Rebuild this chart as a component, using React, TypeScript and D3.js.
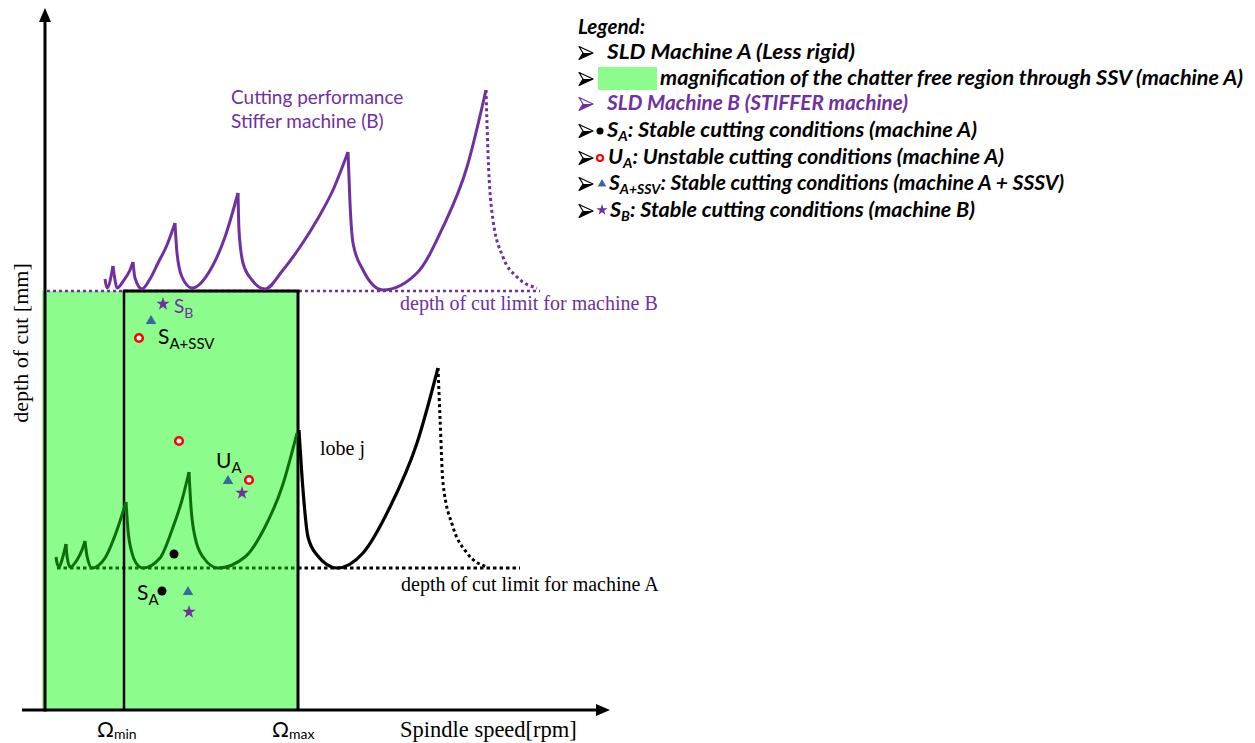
import * as d3 from 'd3'

type Pt = [number, number]

// spindle speed (rpm-like units) vs depth of cut (mm)
const greenLobes: Pt[][] = [
  [[110, 1.53], [120, 1.47], [140, 1.43], [175, 1.52], [210, 1.66]],
  [[210, 1.66], [220, 1.54], [250, 1.43], [320, 1.5], [370, 1.6], [400, 1.69]],
  [[400, 1.69], [420, 1.54], [470, 1.42], [600, 1.52], [720, 1.8], [810, 2.08]],
  [[810, 2.08], [830, 1.8], [870, 1.57], [910, 1.47], [980, 1.42], [1150, 1.52], [1270, 1.8], [1370, 2.1], [1440, 2.38]],
  [[1440, 2.38], [1460, 2.03], [1500, 1.73], [1580, 1.53], [1730, 1.42], [2000, 1.53], [2200, 1.83], [2370, 2.23], [2520, 2.77]],
]
const blackLobe: Pt[] = [
  [2540, 2.8], [2580, 2.2], [2630, 1.73], [2720, 1.55], [2920, 1.42], [3180, 1.57], [3450, 2.03], [3720, 2.67], [3930, 3.42],
]
const blackTail: Pt[] = [[3930, 3.42], [3950, 2.93], [3980, 2.27], [4080, 1.83], [4220, 1.57], [4420, 1.43]]

const purpleLobes: Pt[][] = [
  [[600, 4.31], [620, 4.22], [680, 4.44]],
  [[680, 4.44], [700, 4.3], [720, 4.22], [790, 4.3], [850, 4.4], [880, 4.48]],
  [[880, 4.48], [900, 4.32], [970, 4.21], [1050, 4.31], [1130, 4.47], [1220, 4.65], [1300, 4.87]],
  [[1300, 4.87], [1320, 4.57], [1370, 4.33], [1470, 4.22], [1670, 4.43], [1800, 4.73], [1930, 5.17]],
  [[1930, 5.17], [1940, 4.8], [1980, 4.47], [2070, 4.3], [2200, 4.21], [2380, 4.4], [2550, 4.63], [2720, 4.9], [2880, 5.2], [3030, 5.58]],
  [[3030, 5.58], [3050, 5.07], [3080, 4.67], [3180, 4.4], [3380, 4.2], [3720, 4.37], [3980, 4.83], [4220, 5.43], [4410, 6.2]],
]
const purpleTail: Pt[] = [[4410, 6.2], [4430, 5.57], [4480, 4.9], [4580, 4.53], [4720, 4.33], [4920, 4.22]]

const limitA = 1.42
const limitB = 4.19
const omegaMin = 790
const omegaMax = 2530
const regionStart = -30

const stableA: Pt[] = [[1170, 1.19], [1290, 1.56]]
const unstableA: Pt[] = [[1340, 2.69], [2040, 2.3], [940, 3.72]]
const stableSsv: Pt[] = [[1430, 1.18], [1830, 2.29], [1060, 3.89]]
const stableB: Pt[] = [[1440, 0.98], [1970, 2.17], [1180, 4.06]]

const PURPLE = '#7030a0'
const GREEN_LINE = '#0b6e0b'
const GREEN_FILL = '#8cfc8c'
const BLUE = '#3c679e'
const SERIF = '"Liberation Serif", "Times New Roman", serif'
const SANS = 'Lato, "Open Sans", sans-serif'

function Bullet({ x, y, color }: { x: number; y: number; color: string }) {
  // 3D arrowhead like the Wingdings bullet
  return (
    <g transform={`translate(${x},${y})`}>
      <path d="M0,-6.5 L14,0 L0,6.5 L4,0 Z" fill="#fff" stroke={color} strokeWidth={1.2} strokeLinejoin="round" />
      <path d="M4,0 L14,0 L0,6.5 Z" fill={color} />
    </g>
  )
}

export default function App() {
  const x = d3.scaleLinear().domain([0, 5650]).range([45, 610])
  const y = d3.scaleLinear().domain([0, 7]).range([710, 10])
  const line = d3
    .line<Pt>()
    .x((d) => x(d[0]))
    .y((d) => y(d[1]))
    .curve(d3.curveMonotoneX)
  const star = d3.symbol(d3.symbolStar, 55)()
  const tri = d3.symbol(d3.symbolTriangle, 48)()

  const legendY = [34, 59, 85, 110, 137, 164, 190, 217]

  return (
    <svg
      width={1255}
      height={743}
      viewBox="0 0 1255 743"
      style={{ position: 'absolute', left: 0, top: 0, background: '#fff' }}
    >
      {/* chatter-free region magnified by SSV */}
      <rect
        x={x(regionStart)}
        y={y(limitB)}
        width={x(omegaMax) - x(regionStart)}
        height={y(0) - y(limitB)}
        fill={GREEN_FILL}
      />

      {/* depth-of-cut limits */}
      <line x1={x(20)} x2={x(4950)} y1={y(limitB)} y2={y(limitB)} stroke={PURPLE} strokeWidth={2.5} strokeDasharray="3 3" />
      <line x1={x(120)} x2={x(omegaMax)} y1={y(limitA)} y2={y(limitA)} stroke={GREEN_LINE} strokeWidth={3} strokeDasharray="3.5 3" />
      <line x1={x(omegaMax)} x2={x(4750)} y1={y(limitA)} y2={y(limitA)} stroke="#000" strokeWidth={3} strokeDasharray="3.5 3" />

      {/* SSV window */}
      <line x1={x(omegaMin)} x2={x(omegaMin)} y1={y(limitB)} y2={y(0)} stroke="#000" strokeWidth={2.5} />
      <line x1={x(omegaMax)} x2={x(omegaMax)} y1={y(limitB)} y2={y(0)} stroke="#000" strokeWidth={3} />
      <line x1={x(omegaMin) - 1.2} x2={x(omegaMax) + 1.5} y1={y(limitB)} y2={y(limitB)} stroke="#000" strokeWidth={3} />

      {/* stability lobes machine A */}
      {greenLobes.map((lobe, i) => (
        <path key={`g${i}`} d={line(lobe) ?? ''} fill="none" stroke={GREEN_LINE} strokeWidth={3} strokeLinejoin="round" />
      ))}
      <path d={line(blackLobe) ?? ''} fill="none" stroke="#000" strokeWidth={3.2} />
      <path d={line(blackTail) ?? ''} fill="none" stroke="#000" strokeWidth={3} strokeDasharray="3 3" />

      {/* stability lobes machine B */}
      {purpleLobes.map((lobe, i) => (
        <path key={`p${i}`} d={line(lobe) ?? ''} fill="none" stroke={PURPLE} strokeWidth={3} strokeLinejoin="round" />
      ))}
      <path d={line(purpleTail) ?? ''} fill="none" stroke={PURPLE} strokeWidth={3} strokeDasharray="3 3" />

      {/* cutting points */}
      {stableA.map((d, i) => (
        <circle key={`sa${i}`} cx={x(d[0])} cy={y(d[1])} r={4.5} fill="#000" />
      ))}
      {unstableA.map((d, i) => (
        <circle key={`ua${i}`} cx={x(d[0])} cy={y(d[1])} r={3.8} fill="#fff" stroke="#f00" strokeWidth={2.6} />
      ))}
      {stableSsv.map((d, i) => (
        <path key={`ss${i}`} d={tri ?? ''} transform={`translate(${x(d[0])},${y(d[1])})`} fill={BLUE} />
      ))}
      {stableB.map((d, i) => (
        <path key={`sb${i}`} d={star ?? ''} transform={`translate(${x(d[0])},${y(d[1])})`} fill={PURPLE} />
      ))}

      {/* axes */}
      <line x1={x(0)} x2={x(0)} y1={y(0) + 1.5} y2={20} stroke="#000" strokeWidth={3} />
      <path d={`M${x(0)},8 L${x(0) - 6},22 L${x(0) + 6},22 Z`} fill="#000" />
      <line x1={22} x2={598} y1={y(0)} y2={y(0)} stroke="#000" strokeWidth={3} />
      <path d={`M610,${y(0)} L596,${y(0) - 6} L596,${y(0) + 6} Z`} fill="#000" />

      {/* annotations */}
      <g fontFamily={SANS} fontSize={21}>
        <text x={137} y={600}>S<tspan fontSize={15} dy={5}>A</tspan></text>
        <text x={216} y={468}>U<tspan fontSize={15} dy={5}>A</tspan></text>
        <text x={158} y={344}>S<tspan fontSize={15} dy={5}>A+SSV</tspan></text>
        <text x={174} y={313} fill={PURPLE} fontSize={19}>S<tspan fontSize={14} dy={5}>B</tspan></text>
        <text x={231} y={104} fill={PURPLE} fontSize={19}>Cutting performance</text>
        <text x={231} y={128} fill={PURPLE} fontSize={19}>Stiffer machine (B)</text>
        <text x={97} y={737} fontSize={21}>Ω<tspan fontSize={14} dy={2}>min</tspan></text>
        <text x={272} y={737} fontSize={21}>Ω<tspan fontSize={14} dy={2}>max</tspan></text>
      </g>
      <g fontFamily={SERIF} fontSize={20}>
        <text x={320} y={455}>lobe j</text>
        <text x={401} y={591}>depth of cut limit for machine A</text>
        <text x={400} y={310} fill={PURPLE}>depth of cut limit for machine B</text>
        <text x={400} y={737} fontSize={22.5}>Spindle speed[rpm]</text>
        <text transform="translate(28,343) rotate(-90)" textAnchor="middle" fontSize={22}>depth of cut [mm]</text>
      </g>

      {/* legend */}
      <g fontFamily={SANS} fontSize={21} fontStyle="italic" fontWeight={700}>
        <text x={578} y={legendY[0]} textLength={67} lengthAdjust="spacingAndGlyphs">Legend:</text>
        {legendY.slice(1).map((ly, i) => (
          <Bullet key={`arr${i}`} x={579} y={ly - 6} color={i === 2 ? PURPLE : '#000'} />
        ))}
        <text x={607} y={legendY[1]} textLength={248} lengthAdjust="spacingAndGlyphs">SLD Machine A (Less rigid)</text>
        <rect x={598} y={legendY[2] - 18} width={59} height={23} fill={GREEN_FILL} />
        <text x={660} y={legendY[2]} textLength={583} lengthAdjust="spacingAndGlyphs">magnification of the chatter free region through SSV (machine A)</text>
        <text x={607} y={legendY[3]} fill={PURPLE} textLength={301} lengthAdjust="spacingAndGlyphs">SLD Machine B (STIFFER machine)</text>

        <circle cx={600} cy={legendY[4] - 6} r={3.5} fill="#000" />
        <text x={607} y={legendY[4]} textLength={370} lengthAdjust="spacingAndGlyphs">S<tspan fontSize={14} dy={4}>A</tspan><tspan dy={-4}>: Stable cutting conditions (machine A)</tspan></text>

        <circle cx={600} cy={legendY[5] - 6} r={3} fill="#fff" stroke="#f00" strokeWidth={2.2} />
        <text x={608} y={legendY[5]} textLength={396} lengthAdjust="spacingAndGlyphs">U<tspan fontSize={14} dy={4}>A</tspan><tspan dy={-4}>: Unstable cutting conditions (machine A)</tspan></text>

        <path d={d3.symbol(d3.symbolTriangle, 32)() ?? ''} transform={`translate(602,${legendY[6] - 6})`} fill={BLUE} />
        <text x={609} y={legendY[6]} textLength={455} lengthAdjust="spacingAndGlyphs">S<tspan fontSize={14} dy={4}>A+SSV</tspan><tspan dy={-4}>: Stable cutting conditions (machine A + SSSV)</tspan></text>

        <path d={d3.symbol(d3.symbolStar, 40)() ?? ''} transform={`translate(602,${legendY[7] - 7})`} fill={PURPLE} />
        <text x={610} y={legendY[7]} textLength={365} lengthAdjust="spacingAndGlyphs">S<tspan fontSize={14} dy={4}>B</tspan><tspan dy={-4}>: Stable cutting conditions (machine B)</tspan></text>
      </g>
    </svg>
  )
}
